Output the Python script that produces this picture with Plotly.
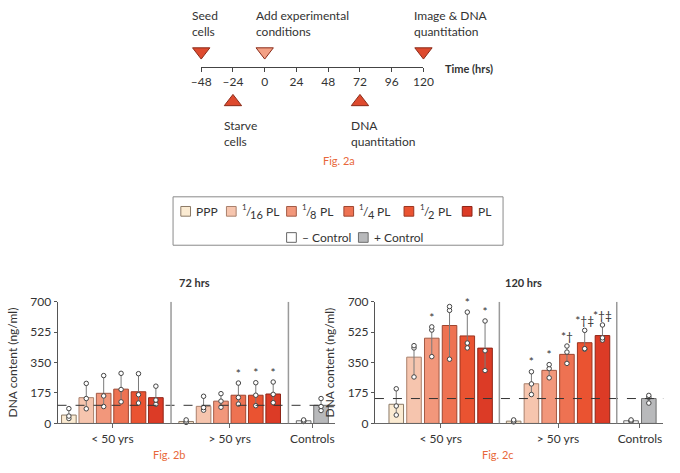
import plotly.graph_objects as go

W, H = 680, 473


def px(x):
    return x / W


def py(y):
    return 1 - y / H


# ---------------- data ----------------
# timeline (Fig. 2a)
timeline_ticks = [-48, -24, 0, 24, 48, 72, 96, 120]
event_times = [-48, -24, 0, 72, 120]
event_labels = ["Seed<br>cells", "Starve<br>cells", "Add experimental<br>conditions",
                "DNA<br>quantitation", "Image & DNA<br>quantitation"]
event_side = ["above", "below", "above", "below", "above"]
event_colors = ["#DE4A2E", "#DE4A2E", "#F3A084", "#DE4A2E", "#DE4A2E"]

# bar charts (Fig. 2b / 2c); condition labels as (numerator, denominator, name)
conditions = [("", "", "PPP"), ("1", "16", "PL"), ("1", "8", "PL"),
              ("1", "4", "PL"), ("1", "2", "PL"), ("", "", "PL")]
controls = ["– Control", "+ Control"]
group_labels = ["< 50 yrs", "> 50 yrs", "Controls"]

mean_72_lt50 = [48, 148, 173, 197, 182, 148]
mean_72_gt50 = [11, 98, 128, 162, 162, 169]
ctrl_72 = [15, 104]
pts_72_lt50 = [[85, 42, 28], [230, 143, 84], [275, 158, 97], [288, 195, 124], [286, 165, 117], [214, 134, 110]]
pts_72_gt50 = [[20, 9, 6], [156, 91, 76], [171, 128, 93], [232, 149, 111], [234, 162, 102], [238, 167, 119]]
pts_72_ctrl = [[20, 13, 11], [143, 97, 74]]
sig_72_lt50 = ["", "", "", "", "", ""]
sig_72_gt50 = ["", "", "", "*", "*", "*"]

mean_120_lt50 = [110, 381, 490, 563, 503, 433]
mean_120_gt50 = [13, 228, 305, 397, 464, 505]
ctrl_120 = [15, 143]
pts_120_lt50 = [[199, 100, 48], [447, 434, 267], [555, 537, 384], [672, 650, 369], [640, 462, 434], [589, 418, 304]]
pts_120_gt50 = [[20, 12, 9], [297, 227, 166], [338, 315, 262], [445, 410, 345], [535, 430, 427], [566, 492, 479]]
pts_120_ctrl = [[20, 14, 12], [161, 150, 117]]
sig_120_lt50 = ["", "", "*", "*", "*", "*"]
sig_120_gt50 = ["", "*", "*", "*†", "*†‡", "*†‡"]

y_ticks = [0, 175, 350, 525, 700]

# ---------------- style ----------------
FONT = "Lato, 'DejaVu Sans', sans-serif"
TXT = "#333333"
ORANGE = "#E8683A"
cond_fill = ["#FBEBD2", "#F6C5AE", "#F2977B", "#EE7252", "#EA5331", "#DC3B26"]
cond_line = ["#8C7A66", "#A9806C", "#A35A45", "#9E4630", "#9A3520", "#8E2416"]
ctrl_fill = ["#FFFFFF", "#B8B9BB"]
ctrl_line = ["#666666", "#6E6E6E"]

charts = [
    dict(xa="x", ya="y", lt=mean_72_lt50, gt=mean_72_gt50, ctrl=ctrl_72,
         plt=pts_72_lt50, pgt=pts_72_gt50, pctrl=pts_72_ctrl,
         slt=sig_72_lt50, sgt=sig_72_gt50,
         off=[0, 6.74, 13.49], rng=[-0.65, 15.3], dom=[px(49), px(335)], bw=0.84,
         title="72 hrs", tx=190, fig="Fig. 2b", fx=164),
    dict(xa="x2", ya="y2", lt=mean_120_lt50, gt=mean_120_gt50, ctrl=ctrl_120,
         plt=pts_120_lt50, pgt=pts_120_gt50, pctrl=pts_120_ctrl,
         slt=sig_120_lt50, sgt=sig_120_gt50,
         off=[0, 6.61, 13.22], rng=[-1.2, 15.03], dom=[px(376), px(673)], bw=0.82,
         title="120 hrs", tx=529, fig="Fig. 2c", fx=503),
]


def paper_text(text, x, y, size=11, color=TXT, xanchor="center", yanchor="middle", yshift=0):
    return dict(text=text, xref="paper", yref="paper", x=px(x), y=py(y),
                xanchor=xanchor, yanchor=yanchor, showarrow=False, yshift=yshift,
                font=dict(family=FONT, size=size, color=color))


fig = go.Figure()
shapes = []
annotations = []

for ch in charts:
    off = ch["off"]
    xa, ya = ch["xa"], ch["ya"]
    # condition bars
    for c in range(len(conditions)):
        fig.add_trace(go.Bar(
            x=[off[0] + c, off[1] + c], y=[ch["lt"][c], ch["gt"][c]], width=ch["bw"],
            marker=dict(color=cond_fill[c], line=dict(color=cond_line[c], width=1)),
            xaxis=xa, yaxis=ya, showlegend=False, hoverinfo="skip"))
    # control bars
    fig.add_trace(go.Bar(
        x=[off[2], off[2] + 1], y=ch["ctrl"], width=ch["bw"],
        marker=dict(color=ctrl_fill, line=dict(color=ctrl_line, width=1)),
        xaxis=xa, yaxis=ya, showlegend=False, hoverinfo="skip"))
    # individual points connected by range line
    xs, ys = [], []
    sx, sy, st = [], [], []
    groups = [(off[0], ch["plt"], ch["slt"]), (off[1], ch["pgt"], ch["sgt"]), (off[2], ch["pctrl"], None)]
    for base, pts, sig in groups:
        for i, p in enumerate(pts):
            for v in sorted(p):
                xs.append(base + i)
                ys.append(v)
            xs.append(None)
            ys.append(None)
            if sig and sig[i]:
                sx.append(base + i)
                sy.append(max(p) + 48)
                st.append(sig[i])
    fig.add_trace(go.Scatter(
        x=xs, y=ys, mode="lines+markers", line=dict(color="#7A7A7A", width=1),
        marker=dict(symbol="circle", size=4.5, color="white", line=dict(color="#444444", width=1)),
        xaxis=xa, yaxis=ya, showlegend=False, cliponaxis=False, hoverinfo="skip"))
    fig.add_trace(go.Scatter(
        x=sx, y=sy, mode="text", text=st, textposition="middle center",
        textfont=dict(family=FONT, size=12, color=TXT),
        xaxis=xa, yaxis=ya, showlegend=False, cliponaxis=False, hoverinfo="skip"))
    # dashed reference line at + Control mean
    shapes.append(dict(type="line", xref=xa + " domain", x0=0, x1=1, yref=ya,
                       y0=ch["ctrl"][1], y1=ch["ctrl"][1],
                       line=dict(color="#333333", width=1, dash="dash")))
    # group separators
    for sep in [(off[0] + 5 + off[1]) / 2, (off[1] + 5 + off[2]) / 2]:
        shapes.append(dict(type="line", xref=xa, x0=sep, x1=sep, yref=ya, y0=0, y1=700,
                           line=dict(color="#9A9A9A", width=1.5)))
    annotations.append(paper_text("<b>" + ch["title"] + "</b>", ch["tx"], 284, size=11))
    annotations.append(paper_text(ch["fig"], ch["fx"], 461, size=11, color=ORANGE))

# timeline markers
sym = ["triangle-down" if s == "above" else "triangle-up" for s in event_side]
ypos = [45 if s == "above" else 97 for s in event_side]
fig.add_trace(go.Scatter(
    x=event_times, y=ypos, mode="markers",
    marker=dict(symbol=sym, size=15, color=event_colors, line=dict(color="#8A2A18", width=1)),
    xaxis="x3", yaxis="y3", showlegend=False, cliponaxis=False, hoverinfo="skip"))
for t, lab, s in zip(event_times, event_labels, event_side):
    annotations.append(dict(text=lab, xref="x3", x=t, xshift=-11, xanchor="left", align="left",
                            yref="y3", y=34 if s == "above" else 112,
                            yanchor="bottom" if s == "above" else "top",
                            showarrow=False, font=dict(family=FONT, size=12, color=TXT)))
annotations.append(paper_text("<b>Time (hrs)</b>", 446, 62, size=11, xanchor="left"))
annotations.append(paper_text("Fig. 2a", 339, 157, size=11, color=ORANGE))

# legend (box with swatches)
shapes.append(dict(type="rect", xref="paper", yref="paper", x0=px(168), x1=px(508),
                   y0=py(245), y1=py(195), line=dict(color="#8A8A8A", width=1)))
cond_lefts = [176, 223, 285, 344, 406, 466]
for (num, den, name), f, l, x0 in zip(conditions, cond_fill, cond_line, cond_lefts):
    yc = 210
    shapes.append(dict(type="rect", xref="paper", yref="paper", x0=px(x0), x1=px(x0 + 10),
                       y0=py(yc + 5), y1=py(yc - 5), fillcolor=f, line=dict(color=l, width=1)))
    X = x0 + 14
    if num:
        annotations.append(paper_text(num, X, yc, size=8, xanchor="left", yshift=4))
        annotations.append(paper_text("/", X + 4, yc, size=12, xanchor="left"))
        annotations.append(paper_text(den, X + 8.5, yc, size=11, xanchor="left", yshift=-3))
        X = X + 8.5 + 6.4 * len(den) + 3.5
    annotations.append(paper_text(name, X, yc, size=12, xanchor="left"))

ctrl_lefts = [285, 359]
for lab, f, l, x0 in zip(controls, ctrl_fill, ctrl_line, ctrl_lefts):
    yc = 237
    shapes.append(dict(type="rect", xref="paper", yref="paper", x0=px(x0), x1=px(x0 + 10),
                       y0=py(yc + 5), y1=py(yc - 5), fillcolor=f, line=dict(color=l, width=1)))
    annotations.append(paper_text(lab, x0 + 14, yc, size=12, xanchor="left"))

axis_common = dict(showgrid=False, zeroline=False, showline=True, ticks="outside",
                   tickfont=dict(family=FONT, size=12, color=TXT))
y_common = dict(axis_common, domain=[py(429), py(303.3)], range=[0, 700], tickvals=y_ticks,
                ticklen=3, linecolor="#555555", tickcolor="#555555",
                title=dict(text="DNA content (ng/ml)", standoff=10,
                           font=dict(family=FONT, size=12, color=TXT)))

layout_axes = {}
for i, ch in enumerate(charts):
    sfx = "" if i == 0 else str(i + 1)
    off = ch["off"]
    layout_axes["xaxis" + sfx] = dict(axis_common, domain=ch["dom"], range=ch["rng"],
                                      anchor="y" + sfx, linecolor="#666666", tickcolor="#666666",
                                      ticklen=4, tickvals=[off[0] + 2.5, off[1] + 2.5, off[2] + 0.5],
                                      ticktext=group_labels)
    layout_axes["yaxis" + sfx] = dict(y_common, anchor="x" + sfx)

layout_axes["xaxis3"] = dict(axis_common, domain=[px(197), px(426)], range=[-48, 120],
                             anchor="free", position=py(61), linecolor="#444444", tickcolor="#444444",
                             ticklen=4, tickvals=timeline_ticks,
                             ticktext=[str(t).replace("-", "–") for t in timeline_ticks])
layout_axes["yaxis3"] = dict(domain=[py(160), 1], range=[160, 0], visible=False, anchor="x3")

fig.update_layout(
    width=W, height=H, margin=dict(l=0, r=0, t=0, b=0),
    paper_bgcolor="white", plot_bgcolor="rgba(0,0,0,0)",
    font=dict(family=FONT, size=12, color=TXT),
    barmode="overlay", showlegend=False,
    shapes=shapes, annotations=annotations,
    **layout_axes,
)

fig.write_html("out.html", config={"displayModeBar": False},
               post_script="document.body.style.margin='0';document.body.style.overflow='hidden';")
